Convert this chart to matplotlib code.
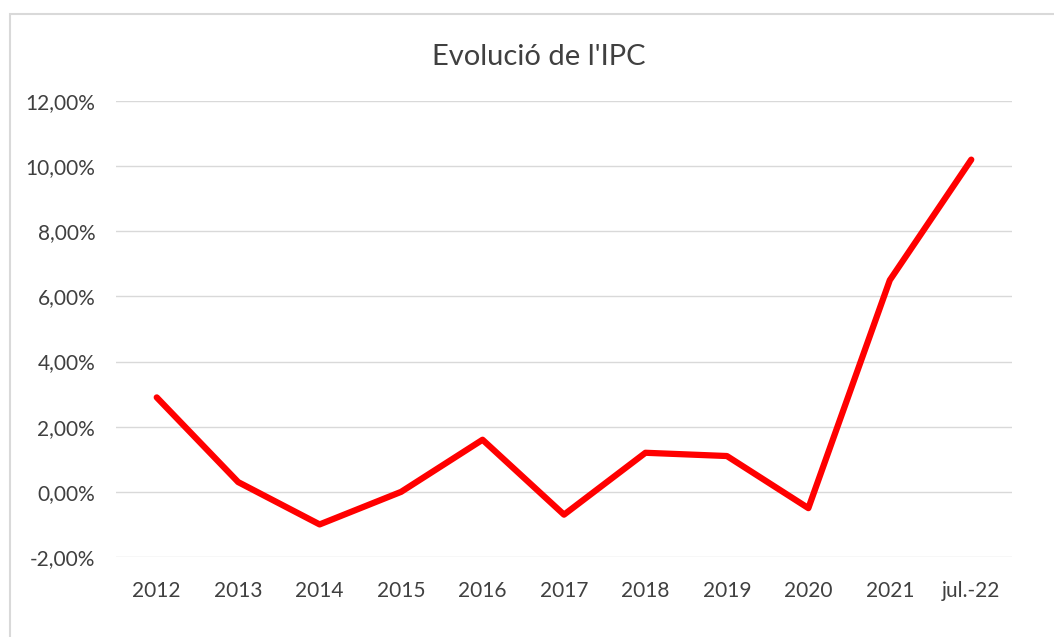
import matplotlib
matplotlib.use("Agg")
import matplotlib.pyplot as plt
from matplotlib.patches import Rectangle
from matplotlib.ticker import FuncFormatter

categories = ["2012", "2013", "2014", "2015", "2016", "2017", "2018", "2019", "2020", "2021", "jul.-22"]
ipc = [2.9, 0.3, -1.0, 0.0, 1.6, -0.7, 1.2, 1.1, -0.5, 6.5, 10.2]
yticks = [-2, 0, 2, 4, 6, 8, 10, 12]

plt.rcParams['font.family'] = ['Lato', 'DejaVu Sans']

W, H = 1054, 637
fig = plt.figure(figsize=(W / 100, H / 100), dpi=100)
fig.patches.append(Rectangle((9.5 / W, -0.1), 1.2, 1 - 13.5 / H + 0.1, transform=fig.transFigure,
                             fill=False, edgecolor="#d9d9d9", linewidth=1.5))

ax = fig.add_axes([116 / W, 1 - 557 / H, (1012 - 116) / W, (557 - 101) / H])
x = list(range(len(categories)))
ax.plot(x, ipc, color="#ff0000", linewidth=4.5, solid_capstyle="round", solid_joinstyle="round", zorder=3)

ax.set_xlim(-0.5, len(categories) - 0.5)
ax.set_ylim(-2, 12)
ax.set_yticks(yticks)
ax.yaxis.set_major_formatter(FuncFormatter(lambda v, p: f"{v:.2f}".replace(".", ",") + "%"))
ax.set_xticks(x)
ax.set_xticklabels(categories)
ax.grid(axis="y", color="#d9d9d9", linewidth=1)
ax.set_axisbelow(True)
for s in ax.spines.values():
    s.set_visible(False)
ax.tick_params(length=0, labelsize=15, labelcolor="#404040")
ax.tick_params(axis="y", pad=15)
ax.tick_params(axis="x", pad=17)
fig.text(539 / W, 1 - 57 / H, "Evolució de l'IPC", ha="center", va="center", fontsize=21, color="#404040")

fig.savefig("out.png", dpi=100)
